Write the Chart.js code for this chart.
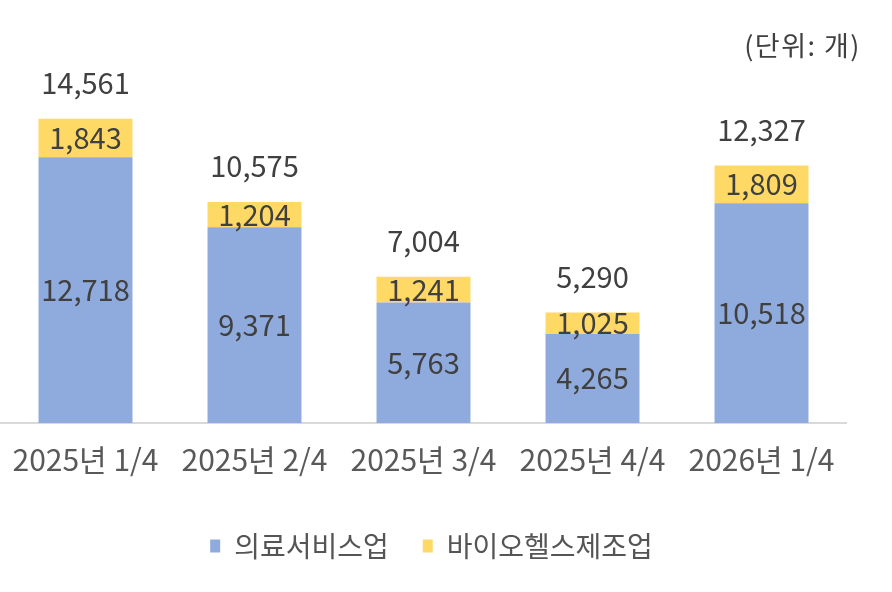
<!DOCTYPE html>
<html>
<head>
<meta charset="utf-8">
<script src="https://cdn.jsdelivr.net/npm/chart.js@4/dist/chart.umd.min.js"></script>
<style>
html,body{margin:0;padding:0;background:#fff;}
#wrap{width:892px;height:592px;}
</style>
</head>
<body>
<div id="wrap"><canvas id="c" width="892" height="592"></canvas></div>
<script>
const categories = ['2025년 1/4', '2025년 2/4', '2025년 3/4', '2025년 4/4', '2026년 1/4'];
const medicalService = [12718, 9371, 5763, 4265, 10518];
const bioHealthMfg = [1843, 1204, 1241, 1025, 1809];
const totals = [14561, 10575, 7004, 5290, 12327];
const seriesNames = ['의료서비스업', '바이오헬스제조업'];
const unitLabel = '(단위: 개)';

const numFont = "'Noto Sans CJK KR', sans-serif";
const fmt = v => v.toLocaleString('en-US');

const labelPlugin = {
  id: 'labels',
  afterLayout(chart) {
    if (chart.legend) { chart.legend.left += 8; chart.legend.right += 8; }
  },
  afterDatasetsDraw(chart) {
    const ctx = chart.ctx;
    ctx.save();
    ctx.font = '29px ' + numFont;
    ctx.fillStyle = '#404040';
    ctx.textAlign = 'center';
    ctx.textBaseline = 'middle';
    chart.data.datasets.forEach((ds, di) => {
      const meta = chart.getDatasetMeta(di);
      meta.data.forEach((el, i) => {
        const yc = (el.y + el.base) / 2;
        ctx.fillText(fmt(ds.data[i]), el.x, yc);
      });
    });
    const lastMeta = chart.getDatasetMeta(chart.data.datasets.length - 1);
    lastMeta.data.forEach((el, i) => {
      ctx.fillText(fmt(totals[i]), el.x, el.y - 36);
    });
    ctx.font = "27px 'Noto Sans CJK KR', sans-serif";
    ctx.fillStyle = '#404040';
    ctx.textAlign = 'right';
    try { ctx.letterSpacing = '1.5px'; } catch (e) {}
    ctx.fillText(unitLabel, 861, 46);
    ctx.restore();
  }
};

new Chart(document.getElementById('c'), {
  type: 'bar',
  data: {
    labels: categories,
    datasets: [
      { label: seriesNames[0], data: medicalService, backgroundColor: '#8FAADC', borderWidth: 0 },
      { label: seriesNames[1], data: bioHealthMfg, backgroundColor: '#FFD966', borderWidth: 0 }
    ]
  },
  options: {
    responsive: false,
    animation: false,
    devicePixelRatio: 1,
    layout: { padding: { top: 47, left: 1, right: 46, bottom: 22 } },
    datasets: { bar: { categoryPercentage: 1, barPercentage: 0.556 } },
    scales: {
      x: {
        stacked: true,
        grid: { display: false, drawTicks: false },
        border: { display: true, color: '#d9d9d9', width: 2 },
        ticks: { padding: 19, color: '#595959', font: { family: numFont, size: 30 }, maxRotation: 0, autoSkip: false },
        afterFit(scale) { scale.height = 75; scale.paddingLeft = 0; scale.paddingRight = 0; }
      },
      y: {
        stacked: true,
        display: false,
        min: 0,
        max: 18000
      }
    },
    plugins: {
      legend: {
        position: 'bottom',
        labels: {
          boxWidth: 10,
          boxHeight: 13,
          padding: 34,
          color: '#555555',
          font: { family: "'Noto Sans CJK KR', sans-serif", size: 28 }
        }
      },
      tooltip: { enabled: false }
    }
  },
  plugins: [labelPlugin]
});
</script>
</body>
</html>
